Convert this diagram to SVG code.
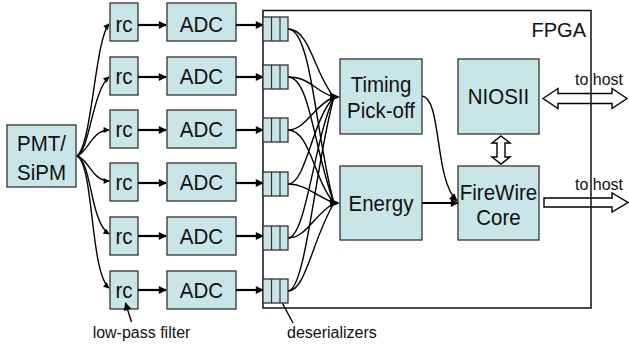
<svg xmlns="http://www.w3.org/2000/svg" width="629" height="347" viewBox="0 0 629 347">
<style>
.box{fill:#c8e5e8;stroke:#333;stroke-width:1.3}
.t{font-family:"Liberation Sans",Arial,sans-serif;font-size:20.5px;fill:#111;text-anchor:middle}
.lbl{font-family:"Liberation Sans",Arial,sans-serif;font-size:16px;fill:#111}
.thick{fill:none;stroke:#000;stroke-width:2.2}
.thin{fill:none;stroke:#000;stroke-width:1.4}
.dl{stroke:#333;stroke-width:1.2}
.dbl{fill:#fff;stroke:#000;stroke-width:1.4}
</style>
<defs>
<marker id="ah" viewBox="0 0 10 10" refX="9" refY="5" markerUnits="userSpaceOnUse" markerWidth="9" markerHeight="8" orient="auto"><path d="M0,0 L10,5 L0,10 z" fill="#000"/></marker>
<marker id="as" viewBox="0 0 10 10" refX="9" refY="5" markerUnits="userSpaceOnUse" markerWidth="7" markerHeight="6" orient="auto"><path d="M0,0 L10,5 L0,10 z" fill="#000"/></marker>
</defs>
<rect width="629" height="347" fill="#fff"/>

<g id="pmt"><rect class="box" x="7" y="125" width="69" height="62"/><text class="t" transform="translate(41.5,151) scale(1,1.1)">PMT/</text><text class="t" transform="translate(41.5,180) scale(1,1.1)">SiPM</text></g>

<g id="rc1"><rect class="box" x="110" y="3" width="28" height="38"/><text class="t" transform="translate(124,31.5) scale(1,1.1)">rc</text></g>
<g id="rc2"><rect class="box" x="110" y="57" width="28" height="38"/><text class="t" transform="translate(124,83.5) scale(1,1.1)">rc</text></g>
<g id="rc3"><rect class="box" x="110" y="110" width="28" height="38"/><text class="t" transform="translate(124,136.5) scale(1,1.1)">rc</text></g>
<g id="rc4"><rect class="box" x="110" y="163" width="28" height="38"/><text class="t" transform="translate(124,189.5) scale(1,1.1)">rc</text></g>
<g id="rc5"><rect class="box" x="110" y="217" width="28" height="38"/><text class="t" transform="translate(124,243.5) scale(1,1.1)">rc</text></g>
<g id="rc6"><rect class="box" x="110" y="271" width="28" height="38"/><text class="t" transform="translate(124,297.5) scale(1,1.1)">rc</text></g>

<g id="adc1"><rect class="box" x="167" y="3" width="69" height="38"/><text class="t" transform="translate(201.5,31.5) scale(1,1.1)">ADC</text></g>
<g id="adc2"><rect class="box" x="167" y="57" width="69" height="38"/><text class="t" transform="translate(201.5,83.5) scale(1,1.1)">ADC</text></g>
<g id="adc3"><rect class="box" x="167" y="110" width="69" height="38"/><text class="t" transform="translate(201.5,136.5) scale(1,1.1)">ADC</text></g>
<g id="adc4"><rect class="box" x="167" y="163" width="69" height="38"/><text class="t" transform="translate(201.5,189.5) scale(1,1.1)">ADC</text></g>
<g id="adc5"><rect class="box" x="167" y="217" width="69" height="38"/><text class="t" transform="translate(201.5,243.5) scale(1,1.1)">ADC</text></g>
<g id="adc6"><rect class="box" x="167" y="271" width="69" height="38"/><text class="t" transform="translate(201.5,297.5) scale(1,1.1)">ADC</text></g>

<g id="connectors">
<path class="thin" marker-end="url(#as)" d="M77,156 C92,145 95,40 109,24"/>
<path class="thin" marker-end="url(#as)" d="M77,156 C90,150 92,92 109,77"/>
<path class="thin" marker-end="url(#as)" d="M77,156 C88,152 92,130 109,130"/>
<path class="thin" marker-end="url(#as)" d="M77,156 C88,158 92,181 109,181"/>
<path class="thin" marker-end="url(#as)" d="M77,156 C92,162 90,222 109,234"/>
<path class="thin" marker-end="url(#as)" d="M77,156 C94,165 90,272 109,288"/>

<line class="thick" marker-end="url(#ah)" x1="138" y1="25" x2="166" y2="25"/>
<line class="thick" marker-end="url(#ah)" x1="138" y1="77" x2="166" y2="77"/>
<line class="thick" marker-end="url(#ah)" x1="138" y1="130" x2="166" y2="130"/>
<line class="thick" marker-end="url(#ah)" x1="138" y1="183" x2="166" y2="183"/>
<line class="thick" marker-end="url(#ah)" x1="138" y1="236" x2="166" y2="236"/>
<line class="thick" marker-end="url(#ah)" x1="138" y1="290" x2="166" y2="290"/>

<line class="thick" marker-end="url(#ah)" x1="236" y1="25" x2="263" y2="25"/>
<line class="thick" marker-end="url(#ah)" x1="236" y1="77" x2="263" y2="77"/>
<line class="thick" marker-end="url(#ah)" x1="236" y1="130" x2="263" y2="130"/>
<line class="thick" marker-end="url(#ah)" x1="236" y1="183" x2="263" y2="183"/>
<line class="thick" marker-end="url(#ah)" x1="236" y1="236" x2="263" y2="236"/>
<line class="thick" marker-end="url(#ah)" x1="236" y1="290" x2="263" y2="290"/>

<path class="thin" d="M288,29 C310,29 314,73 334,97"/>
<path class="thin" d="M288,77 C310,77 316,92 334,97"/>
<path class="thin" d="M288,130 C306,130 314,105 334,97"/>
<path class="thin" d="M288,184 C306,184 312,120 334,97"/>
<path class="thin" d="M288,238 C306,238 314,140 334,97"/>
<path class="thin" d="M288,291 C306,291 316,160 334,97"/>
<path class="thin" d="M288,29 C312,29 316,140 334,203"/>
<path class="thin" d="M288,77 C310,77 314,150 334,203"/>
<path class="thin" d="M288,130 C310,130 314,180 334,203"/>
<path class="thin" d="M288,184 C306,184 316,196 334,203"/>
<path class="thin" d="M288,238 C306,238 314,215 334,203"/>
<path class="thin" d="M288,291 C306,291 312,240 334,203"/>
<polygon points="340,97 330,92.5 330,101.5" fill="#000"/>
<polygon points="340,203 330,198.5 330,207.5" fill="#000"/>

<path class="thin" marker-end="url(#ah)" d="M422,96 C442,98 434,180 457,201"/>
<line class="thick" marker-end="url(#ah)" x1="422" y1="203" x2="458" y2="203"/>

<polygon class="dbl" points="543,98.5 558,88.5 558,93.5 612,93.5 612,88.5 627,98.5 612,108.5 612,103.5 558,103.5 558,108.5"/>
<polygon class="dbl" points="544,198 612,198 612,193 628,202.5 612,212 612,207 544,207"/>
<polygon class="dbl" points="501,136 510,143 505,143 505,157 510,157 501,164 492,157 497,157 497,143 492,143"/>

<line class="thin" marker-end="url(#ah)" x1="131.5" y1="322" x2="125.5" y2="303"/>
<line class="thin" marker-end="url(#ah)" x1="293" y1="323" x2="278" y2="295"/>
</g>

<g id="fpga"><rect x="263" y="10.5" width="328" height="297.5" fill="none" stroke="#111" stroke-width="1.5"/><text class="t" style="font-size:20px;text-anchor:end" x="586" y="37">FPGA</text></g>

<g id="des1"><rect class="box" x="263" y="17" width="25" height="24"/><line class="dl" x1="271.5" y1="17" x2="271.5" y2="41"/><line class="dl" x1="280" y1="17" x2="280" y2="41"/></g>
<g id="des2"><rect class="box" x="263" y="65" width="25" height="24"/><line class="dl" x1="271.5" y1="65" x2="271.5" y2="89"/><line class="dl" x1="280" y1="65" x2="280" y2="89"/></g>
<g id="des3"><rect class="box" x="263" y="118" width="25" height="24"/><line class="dl" x1="271.5" y1="118" x2="271.5" y2="142"/><line class="dl" x1="280" y1="118" x2="280" y2="142"/></g>
<g id="des4"><rect class="box" x="263" y="172" width="25" height="24"/><line class="dl" x1="271.5" y1="172" x2="271.5" y2="196"/><line class="dl" x1="280" y1="172" x2="280" y2="196"/></g>
<g id="des5"><rect class="box" x="263" y="226" width="25" height="24"/><line class="dl" x1="271.5" y1="226" x2="271.5" y2="250"/><line class="dl" x1="280" y1="226" x2="280" y2="250"/></g>
<g id="des6"><rect class="box" x="263" y="279" width="25" height="24"/><line class="dl" x1="271.5" y1="279" x2="271.5" y2="303"/><line class="dl" x1="280" y1="279" x2="280" y2="303"/></g>

<g id="timing"><rect class="box" x="340" y="59" width="82" height="75"/><text class="t" transform="translate(381,92) scale(1,1.08)">Timing</text><text class="t" transform="translate(381,118) scale(1,1.08)">Pick-off</text></g>
<g id="energy"><rect class="box" x="340" y="166" width="82" height="74"/><text class="t" transform="translate(381,211) scale(1,1.08)">Energy</text></g>
<g id="niosii"><rect class="box" x="458" y="59" width="81" height="75"/><text class="t" transform="translate(498.5,104) scale(1,1.08)">NIOSII</text></g>
<g id="firewire"><rect class="box" x="458" y="166" width="81" height="74"/><text class="t" transform="translate(498.5,200) scale(1,1.08)">FireWire</text><text class="t" transform="translate(498.5,225) scale(1,1.08)">Core</text></g>

<g id="labels">
<text class="lbl" x="575" y="85">to host</text>
<text class="lbl" x="575" y="190">to host</text>
<text class="lbl" transform="translate(141.5,338) scale(1,1.08)" text-anchor="middle">low-pass filter</text>
<text class="lbl" transform="translate(287,338) scale(1,1.08)">deserializers</text>
</g>
</svg>
